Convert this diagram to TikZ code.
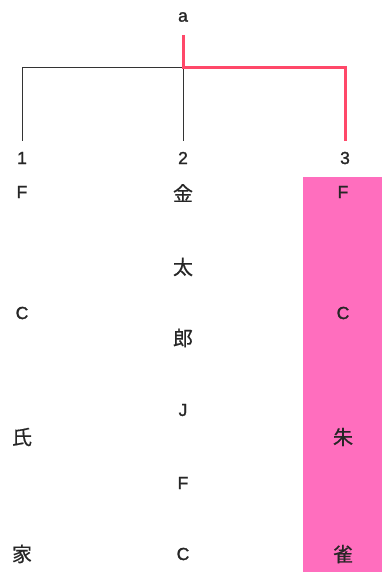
\documentclass[tikz,border=0pt]{standalone}
\usepackage{fontspec}
\setmainfont{Liberation Sans}[FakeBold=1.5]
\newfontfamily\jpfont{Noto Sans CJK JP}[FakeBold=0.6]
\usepackage{tikz}

\definecolor{treered}{RGB}{255,72,105}
\definecolor{markpink}{RGB}{255,110,190}

\begin{document}
\begin{tikzpicture}[x=1pt,y=-1pt,
    lbl/.style={inner sep=0pt,text=black!85,font=\fontsize{17.5}{17.5}\selectfont},
    kanji/.style={inner sep=0pt,text=black!85,font=\jpfont\fontsize{20}{20}\selectfont},
    branch/.style={black!80,line width=1pt},
    hot/.style={treered,line width=3pt}]
    \useasboundingbox (0,0) rectangle (382,572);
    % highlighted column
    \fill[markpink] (303,177) rectangle (382,572);
    % root and children
    \node[lbl] (a) at (183,17) {a};
    \coordinate (j) at (183,68);
    \node[lbl] (n1) at (22,158) {1};
    \node[lbl] (n2) at (183,158) {2};
    \node[lbl] (n3) at (345,158) {3};
    \draw[branch] (j) -| ([yshift=11pt]n1.north);
    \draw[branch] (j) -- ([yshift=11pt]n2.north);
    \draw[hot] ([yshift=-13pt]a.south) -- (j) -| ([yshift=11pt]n3.north);
    % column 1
    \node[lbl] (p1) at (22,192) {F};
    \node[lbl] (p2) at (22,313) {C};
    \node[kanji] (p3) at (22,437) {氏};
    \node[kanji] (p4) at (22,554) {家};
    % column 2
    \node[kanji] (q1) at (183,193) {金};
    \node[kanji] (q2) at (183,267) {太};
    \node[kanji] (q3) at (183,338) {郎};
    \node[lbl] (q4) at (183,410) {J};
    \node[lbl] (q5) at (183,483) {F};
    \node[lbl] (q6) at (183,554) {C};
    % column 3
    \node[lbl] (r1) at (343,192) {F};
    \node[lbl] (r2) at (343,313) {C};
    \node[kanji] (r3) at (343,437) {朱};
    \node[kanji] (r4) at (343,554) {雀};
\end{tikzpicture}
\end{document}
